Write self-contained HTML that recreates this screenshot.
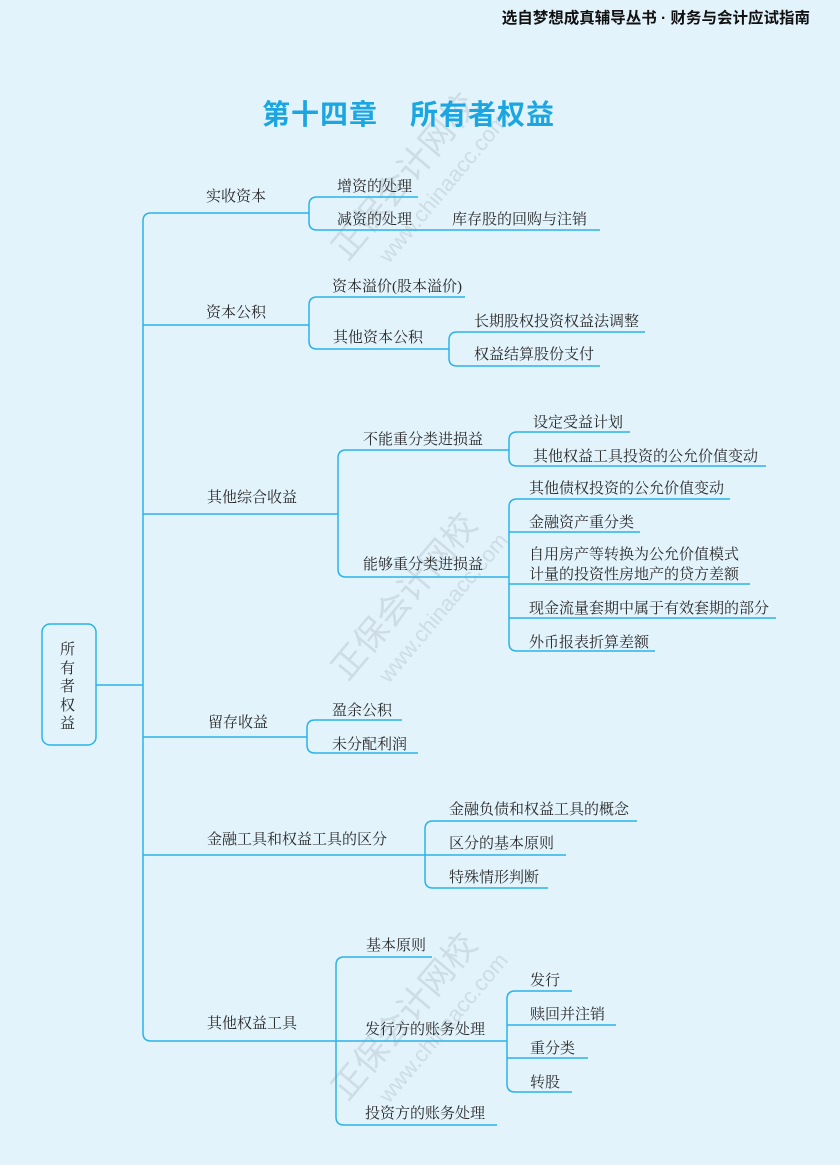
<!DOCTYPE html>
<html><head><meta charset="utf-8"><style>
body{margin:0;}
#p{position:relative;width:840px;height:1165px;background:#e2f3fc;overflow:hidden;font-family:"Liberation Serif","Noto Serif CJK SC",serif;color:#2a2a2a;}
.t{position:absolute;font-size:15px;line-height:18px;white-space:nowrap;margin-top:2px;}
svg{position:absolute;left:0;top:0;}
.wm{position:absolute;font-family:"Liberation Sans","Noto Sans CJK SC",sans-serif;color:rgba(150,160,170,0.28);transform:rotate(-50deg);white-space:nowrap;}
.ti{position:absolute;top:93px;font-family:'Liberation Sans','Noto Sans CJK SC',sans-serif;font-weight:bold;font-size:28px;color:#1ba6e2;letter-spacing:1px;white-space:nowrap;}
</style></head><body><div id="p">
<div class="wm" style="left:300px;top:150px;font-size:34px;">正保会计网校</div>
<div class="wm" style="left:350px;top:175px;font-size:22px;">www.chinaacc.com</div>
<div class="wm" style="left:300px;top:570px;font-size:34px;">正保会计网校</div>
<div class="wm" style="left:350px;top:595px;font-size:22px;">www.chinaacc.com</div>
<div class="wm" style="left:300px;top:990px;font-size:34px;">正保会计网校</div>
<div class="wm" style="left:350px;top:1015px;font-size:22px;">www.chinaacc.com</div>

<div style="position:absolute;right:30px;top:6px;font-family:'Liberation Sans','Noto Sans CJK SC',sans-serif;font-weight:bold;font-size:15.5px;color:#111;white-space:nowrap;">选自梦想成真辅导丛书 · 财务与会计应试指南</div>
<div class="ti" style="left:262px;">第十四章</div>
<div class="ti" style="left:410px;">所有者权益</div>

<svg width="840" height="1165" fill="none" stroke="#2ab3e9" stroke-width="1.5">
<rect x="42" y="624" width="54" height="121" rx="8"/>
<path d="M96 685H143"/>
<path d="M309 213H151Q143 213 143 221V1033Q143 1041 151 1041H336"/>
<path d="M143 325H309M143 514H338M143 737H307M143 855H425"/>
<path d="M418 197H317Q309 197 309 205V222Q309 230 317 230H600"/>
<path d="M465 297H317Q309 297 309 305V341Q309 349 317 349H449"/>
<path d="M645 332H457Q449 332 449 340V358Q449 366 457 366H600"/>
<path d="M509 450H346Q338 450 338 458V569Q338 577 346 577H509"/>
<path d="M630 432H517Q509 432 509 440V458Q509 466 517 466H766"/>
<path d="M730 499H517Q509 499 509 507V643Q509 651 517 651H655M509 532H640M509 584H750M509 618H776"/>
<path d="M402 720H315Q307 720 307 728V745Q307 753 315 753H418"/>
<path d="M637 821H433Q425 821 425 829V880Q425 888 433 888H548M425 855H566"/>
<path d="M432 957H344Q336 957 336 965V1117Q336 1125 344 1125H497M336 1041H507"/>
<path d="M572 991H515Q507 991 507 999V1084Q507 1092 515 1092H572M507 1025H616M507 1058H588"/>
</svg>

<div class="t" style="left:60px;top:639px;line-height:18.5px;white-space:normal;width:16px;">所有者权益</div>

<div class="t" style="left:206px;top:186px">实收资本</div>
<div class="t" style="left:337px;top:176px">增资的处理</div>
<div class="t" style="left:337px;top:209px">减资的处理</div>
<div class="t" style="left:452px;top:209px">库存股的回购与注销</div>

<div class="t" style="left:206px;top:302px">资本公积</div>
<div class="t" style="left:332px;top:276px">资本溢价(股本溢价)</div>
<div class="t" style="left:333px;top:327px">其他资本公积</div>
<div class="t" style="left:474px;top:311px">长期股权投资权益法调整</div>
<div class="t" style="left:474px;top:344px">权益结算股份支付</div>

<div class="t" style="left:207px;top:487px">其他综合收益</div>
<div class="t" style="left:363px;top:429px">不能重分类进损益</div>
<div class="t" style="left:533px;top:412px">设定受益计划</div>
<div class="t" style="left:533px;top:446px">其他权益工具投资的公允价值变动</div>
<div class="t" style="left:363px;top:554px">能够重分类进损益</div>
<div class="t" style="left:529px;top:478px">其他债权投资的公允价值变动</div>
<div class="t" style="left:529px;top:512px">金融资产重分类</div>
<div class="t" style="left:529px;top:544px">自用房产等转换为公允价值模式</div>
<div class="t" style="left:529px;top:564px">计量的投资性房地产的贷方差额</div>
<div class="t" style="left:529px;top:598px">现金流量套期中属于有效套期的部分</div>
<div class="t" style="left:529px;top:632px">外币报表折算差额</div>

<div class="t" style="left:208px;top:712px">留存收益</div>
<div class="t" style="left:332px;top:700px">盈余公积</div>
<div class="t" style="left:332px;top:734px">未分配利润</div>

<div class="t" style="left:207px;top:829px">金融工具和权益工具的区分</div>
<div class="t" style="left:449px;top:799px">金融负债和权益工具的概念</div>
<div class="t" style="left:449px;top:833px">区分的基本原则</div>
<div class="t" style="left:449px;top:867px">特殊情形判断</div>

<div class="t" style="left:207px;top:1013px">其他权益工具</div>
<div class="t" style="left:366px;top:935px">基本原则</div>
<div class="t" style="left:365px;top:1019px">发行方的账务处理</div>
<div class="t" style="left:365px;top:1103px">投资方的账务处理</div>
<div class="t" style="left:530px;top:970px">发行</div>
<div class="t" style="left:530px;top:1004px">赎回并注销</div>
<div class="t" style="left:530px;top:1038px">重分类</div>
<div class="t" style="left:530px;top:1072px">转股</div>
</div></body></html>
